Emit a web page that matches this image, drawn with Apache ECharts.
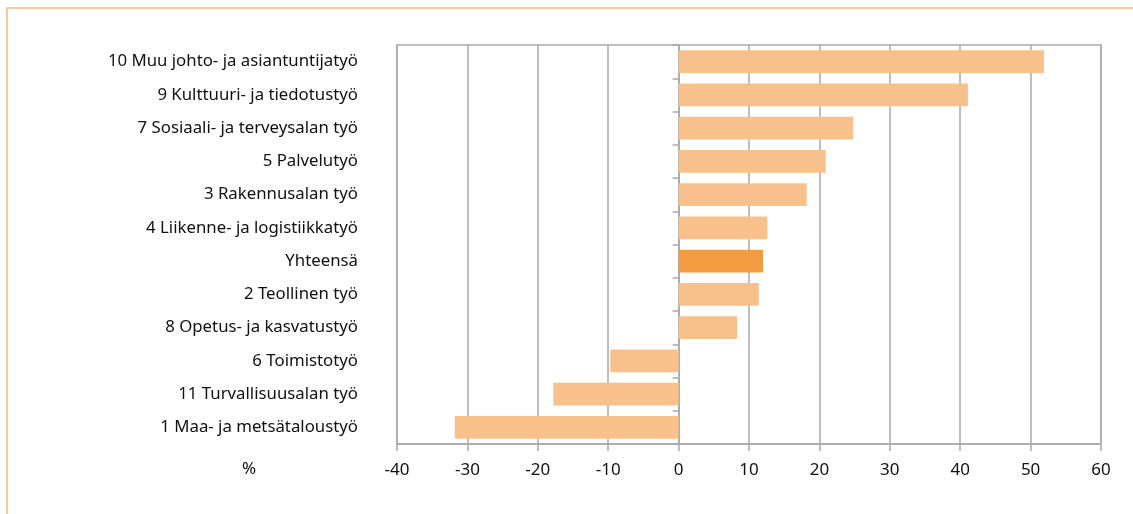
<!DOCTYPE html>
<html>
<head>
<meta charset="utf-8">
<script src="https://cdn.jsdelivr.net/npm/echarts@6/dist/echarts.min.js"></script>
<style>
  html, body { margin: 0; padding: 0; background: #fff; }
  #frame { position: absolute; left: 6px; top: 7px; right: 0; bottom: 0; border-top: 2px solid #f8c99c; border-left: 2px solid #f8c99c; }
  #chart { position: absolute; left: 0; top: 0; width: 1133px; height: 514px; }
</style>
</head>
<body>
<div id="frame"></div>
<div id="chart"></div>
<script>
// ammattiryhmät ylhäältä alas
const categories = [
  '10 Muu johto- ja asiantuntijatyö',
  '9 Kulttuuri- ja tiedotustyö',
  '7 Sosiaali- ja terveysalan työ',
  '5 Palvelutyö',
  '3 Rakennusalan työ',
  '4 Liikenne- ja logistiikkatyö',
  'Yhteensä',
  '2 Teollinen työ',
  '8 Opetus- ja kasvatustyö',
  '6 Toimistotyö',
  '11 Turvallisuusalan työ',
  '1 Maa- ja metsätaloustyö'
]
const values = [51.9, 41.1, 24.8, 20.9, 18.2, 12.6, 12.0, 11.4, 8.3, -9.7, -17.8, -31.8]
const totalName = 'Yhteensä'

const barColor = '#f8c08a'
const totalColor = '#f29b40'
const gridColor = '#a9a9a9'
const font = '"Noto Sans", Lato, sans-serif'

const chart = echarts.init(document.getElementById('chart'))
chart.setOption({
  animation: false,
  textStyle: { fontFamily: font },
  grid: {
    left: 397, right: 32, top: 45, bottom: 70,
    show: true, borderColor: gridColor, borderWidth: 1.5
  },
  xAxis: {
    type: 'value',
    min: -40, max: 60, interval: 10,
    axisLine: { show: true, onZero: false, lineStyle: { color: gridColor, width: 1.5 } },
    axisTick: { show: true, length: 7, lineStyle: { color: gridColor, width: 1.5 } },
    axisLabel: { fontSize: 17, color: '#111', margin: 18 },
    splitLine: { show: true, lineStyle: { color: gridColor, width: 1.5 } }
  },
  yAxis: [
    {
      type: 'category',
      data: categories,
      inverse: true,
      axisLine: { show: false, onZero: false },
      axisTick: { show: false },
      axisLabel: { fontSize: 16.8, color: '#111', margin: 39 }
    },
    {
      // pienet jakoviivat nollakohdassa
      type: 'category',
      data: categories,
      inverse: true,
      position: 'left',
      axisLine: { show: true, onZero: true, onZeroAxisIndex: 0, lineStyle: { color: gridColor, width: 1.5 } },
      axisTick: { show: true, length: 6, lineStyle: { color: gridColor, width: 1.5 } },
      axisLabel: { show: false }
    }
  ],
  series: [{
    type: 'bar',
    yAxisIndex: 0,
    barCategoryGap: '31%',
    data: values.map((v, i) => ({
      value: v,
      itemStyle: { color: categories[i] === totalName ? totalColor : barColor }
    }))
  }],
  graphic: [{
    type: 'text',
    left: 242, top: 461,
    style: { text: '%', fontSize: 17, fill: '#111', fontFamily: font }
  }]
})
</script>
</body>
</html>
